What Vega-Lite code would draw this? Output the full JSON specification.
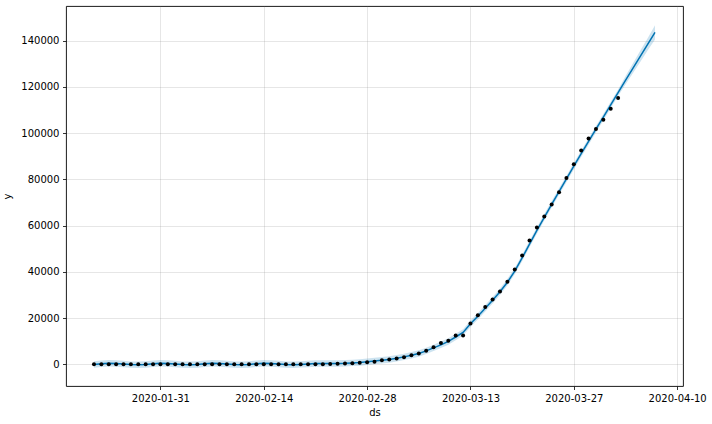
{
  "$schema": "https://vega.github.io/schema/vega-lite/v6.json",
  "autosize": "none",
  "width": 617,
  "height": 380,
  "padding": {"left": 66, "top": 6, "right": 29, "bottom": 38},
  "background": "white",
  "config": {
    "view": {"stroke": "#000000", "strokeWidth": 0.9},
    "font": "DejaVu Sans",
    "axis": {
      "domain": false,
      "grid": true,
      "gridColor": "#808080",
      "gridOpacity": 0.2,
      "gridWidth": 1,
      "tickColor": "#000000",
      "tickSize": 3.5,
      "tickWidth": 0.8,
      "labelFont": "DejaVu Sans",
      "labelFontSize": 10,
      "labelColor": "#000000",
      "labelPadding": 3.5,
      "titleFont": "DejaVu Sans",
      "titleFontSize": 10,
      "titleFontWeight": "normal",
      "titleColor": "#000000"
    }
  },
  "data": {
    "values": [
      {"ds": "2020-01-22", "y": 0, "yhat": -100, "lo": -1500, "hi": 1300},
      {"ds": "2020-01-23", "y": 0, "yhat": 200, "lo": -1200, "hi": 1600},
      {"ds": "2020-01-24", "y": 0, "yhat": 400, "lo": -1000, "hi": 1800},
      {"ds": "2020-01-25", "y": 0, "yhat": 350, "lo": -1050, "hi": 1750},
      {"ds": "2020-01-26", "y": 0, "yhat": 100, "lo": -1300, "hi": 1500},
      {"ds": "2020-01-27", "y": 0, "yhat": -150, "lo": -1550, "hi": 1250},
      {"ds": "2020-01-28", "y": 0, "yhat": -250, "lo": -1650, "hi": 1150},
      {"ds": "2020-01-29", "y": 0, "yhat": -100, "lo": -1500, "hi": 1300},
      {"ds": "2020-01-30", "y": 0, "yhat": 200, "lo": -1200, "hi": 1600},
      {"ds": "2020-01-31", "y": 2, "yhat": 400, "lo": -1000, "hi": 1800},
      {"ds": "2020-02-01", "y": 2, "yhat": 350, "lo": -1050, "hi": 1750},
      {"ds": "2020-02-02", "y": 2, "yhat": 100, "lo": -1300, "hi": 1500},
      {"ds": "2020-02-03", "y": 2, "yhat": -150, "lo": -1550, "hi": 1250},
      {"ds": "2020-02-04", "y": 2, "yhat": -250, "lo": -1650, "hi": 1150},
      {"ds": "2020-02-05", "y": 2, "yhat": -100, "lo": -1500, "hi": 1300},
      {"ds": "2020-02-06", "y": 2, "yhat": 200, "lo": -1200, "hi": 1600},
      {"ds": "2020-02-07", "y": 3, "yhat": 400, "lo": -1000, "hi": 1800},
      {"ds": "2020-02-08", "y": 3, "yhat": 350, "lo": -1050, "hi": 1750},
      {"ds": "2020-02-09", "y": 3, "yhat": 100, "lo": -1300, "hi": 1500},
      {"ds": "2020-02-10", "y": 3, "yhat": -150, "lo": -1550, "hi": 1250},
      {"ds": "2020-02-11", "y": 3, "yhat": -250, "lo": -1650, "hi": 1150},
      {"ds": "2020-02-12", "y": 3, "yhat": -100, "lo": -1500, "hi": 1300},
      {"ds": "2020-02-13", "y": 3, "yhat": 200, "lo": -1200, "hi": 1600},
      {"ds": "2020-02-14", "y": 3, "yhat": 400, "lo": -1000, "hi": 1800},
      {"ds": "2020-02-15", "y": 3, "yhat": 350, "lo": -1050, "hi": 1750},
      {"ds": "2020-02-16", "y": 3, "yhat": 100, "lo": -1300, "hi": 1500},
      {"ds": "2020-02-17", "y": 3, "yhat": -150, "lo": -1550, "hi": 1250},
      {"ds": "2020-02-18", "y": 3, "yhat": -250, "lo": -1650, "hi": 1150},
      {"ds": "2020-02-19", "y": 3, "yhat": -50, "lo": -1450, "hi": 1350},
      {"ds": "2020-02-20", "y": 3, "yhat": 150, "lo": -1250, "hi": 1550},
      {"ds": "2020-02-21", "y": 20, "yhat": 300, "lo": -1100, "hi": 1700},
      {"ds": "2020-02-22", "y": 62, "yhat": 350, "lo": -1050, "hi": 1750},
      {"ds": "2020-02-23", "y": 155, "yhat": 300, "lo": -1100, "hi": 1700},
      {"ds": "2020-02-24", "y": 229, "yhat": 300, "lo": -1100, "hi": 1700},
      {"ds": "2020-02-25", "y": 322, "yhat": 400, "lo": -1000, "hi": 1800},
      {"ds": "2020-02-26", "y": 453, "yhat": 600, "lo": -800, "hi": 2000},
      {"ds": "2020-02-27", "y": 655, "yhat": 800, "lo": -600, "hi": 2200},
      {"ds": "2020-02-28", "y": 888, "yhat": 1100, "lo": -300, "hi": 2500},
      {"ds": "2020-02-29", "y": 1128, "yhat": 1400, "lo": 0, "hi": 2800},
      {"ds": "2020-03-01", "y": 1694, "yhat": 1700, "lo": 300, "hi": 3100},
      {"ds": "2020-03-02", "y": 2036, "yhat": 2100, "lo": 700, "hi": 3500},
      {"ds": "2020-03-03", "y": 2502, "yhat": 2600, "lo": 1200, "hi": 4000},
      {"ds": "2020-03-04", "y": 3089, "yhat": 3200, "lo": 1800, "hi": 4600},
      {"ds": "2020-03-05", "y": 3858, "yhat": 3900, "lo": 2500, "hi": 5300},
      {"ds": "2020-03-06", "y": 4636, "yhat": 4700, "lo": 3300, "hi": 6100},
      {"ds": "2020-03-07", "y": 5883, "yhat": 5800, "lo": 4400, "hi": 7200},
      {"ds": "2020-03-08", "y": 7375, "yhat": 7100, "lo": 5700, "hi": 8500},
      {"ds": "2020-03-09", "y": 9172, "yhat": 8400, "lo": 7000, "hi": 9800},
      {"ds": "2020-03-10", "y": 10149, "yhat": 9900, "lo": 8500, "hi": 11300},
      {"ds": "2020-03-11", "y": 12462, "yhat": 11800, "lo": 10400, "hi": 13200},
      {"ds": "2020-03-12", "y": 12462, "yhat": 13800, "lo": 12400, "hi": 15200},
      {"ds": "2020-03-13", "y": 17660, "yhat": 17500, "lo": 16100, "hi": 18900},
      {"ds": "2020-03-14", "y": 21157, "yhat": 20800, "lo": 19400, "hi": 22200},
      {"ds": "2020-03-15", "y": 24747, "yhat": 24200, "lo": 22800, "hi": 25600},
      {"ds": "2020-03-16", "y": 27980, "yhat": 27700, "lo": 26300, "hi": 29100},
      {"ds": "2020-03-17", "y": 31506, "yhat": 31400, "lo": 30000, "hi": 32800},
      {"ds": "2020-03-18", "y": 35713, "yhat": 35500, "lo": 34100, "hi": 36900},
      {"ds": "2020-03-19", "y": 41035, "yhat": 40300, "lo": 38900, "hi": 41700},
      {"ds": "2020-03-20", "y": 47021, "yhat": 46000, "lo": 44600, "hi": 47400},
      {"ds": "2020-03-21", "y": 53578, "yhat": 52000, "lo": 50600, "hi": 53400},
      {"ds": "2020-03-22", "y": 59138, "yhat": 57900, "lo": 56500, "hi": 59300},
      {"ds": "2020-03-23", "y": 63927, "yhat": 63600, "lo": 62200, "hi": 65000},
      {"ds": "2020-03-24", "y": 69176, "yhat": 69200, "lo": 67800, "hi": 70600},
      {"ds": "2020-03-25", "y": 74386, "yhat": 74700, "lo": 73300, "hi": 76100},
      {"ds": "2020-03-26", "y": 80589, "yhat": 80200, "lo": 78800, "hi": 81600},
      {"ds": "2020-03-27", "y": 86498, "yhat": 85700, "lo": 84300, "hi": 87100},
      {"ds": "2020-03-28", "y": 92472, "yhat": 91100, "lo": 89700, "hi": 92500},
      {"ds": "2020-03-29", "y": 97689, "yhat": 96400, "lo": 95000, "hi": 97800},
      {"ds": "2020-03-30", "y": 101739, "yhat": 101700, "lo": 100300, "hi": 103100},
      {"ds": "2020-03-31", "y": 105792, "yhat": 106900, "lo": 105500, "hi": 108300},
      {"ds": "2020-04-01", "y": 110574, "yhat": 112200, "lo": 110800, "hi": 113600},
      {"ds": "2020-04-02", "y": 115242, "yhat": 117500, "lo": 116100, "hi": 118900},
      {"ds": "2020-04-03", "y": null, "yhat": 122800, "lo": 121000, "hi": 124600},
      {"ds": "2020-04-04", "y": null, "yhat": 128000, "lo": 125900, "hi": 130100},
      {"ds": "2020-04-05", "y": null, "yhat": 133200, "lo": 130800, "hi": 135600},
      {"ds": "2020-04-06", "y": null, "yhat": 138400, "lo": 135700, "hi": 141100},
      {"ds": "2020-04-07", "y": null, "yhat": 143600, "lo": 140500, "hi": 146700}
    ]
  },
  "encoding": {
    "x": {
      "field": "ds",
      "type": "temporal",
      "title": "ds",
      "scale": {
        "type": "utc",
        "domain": [
          {"year": 2020, "month": 1, "date": 18, "hours": 5, "utc": true},
          {"year": 2020, "month": 4, "date": 10, "hours": 19, "utc": true}
        ],
        "nice": false
      },
      "axis": {
        "labelExpr": "utcFormat(datum.value, '%Y-%m-%d')",
        "titlePadding": 4,
        "values": [
          {"year": 2020, "month": 1, "date": 31, "utc": true},
          {"year": 2020, "month": 2, "date": 14, "utc": true},
          {"year": 2020, "month": 2, "date": 28, "utc": true},
          {"year": 2020, "month": 3, "date": 13, "utc": true},
          {"year": 2020, "month": 3, "date": 27, "utc": true},
          {"year": 2020, "month": 4, "date": 10, "utc": true}
        ]
      }
    }
  },
  "layer": [
    {
      "mark": {"type": "area", "color": "#0072B2", "opacity": 0.2},
      "encoding": {
        "y": {
          "field": "lo",
          "type": "quantitative",
          "title": "y",
          "scale": {"domain": [-9400, 155000], "nice": false, "zero": false},
          "axis": {"values": [0, 20000, 40000, 60000, 80000, 100000, 120000, 140000], "format": "d", "titlePadding": 8}
        },
        "y2": {"field": "hi"}
      }
    },
    {
      "mark": {"type": "line", "color": "#0072B2", "strokeWidth": 1.5},
      "encoding": {"y": {"field": "yhat", "type": "quantitative"}}
    },
    {
      "transform": [{"filter": "datum.y != null"}],
      "mark": {"type": "point", "filled": true, "color": "#000000", "opacity": 1, "size": 16},
      "encoding": {"y": {"field": "y", "type": "quantitative"}}
    }
  ]
}
